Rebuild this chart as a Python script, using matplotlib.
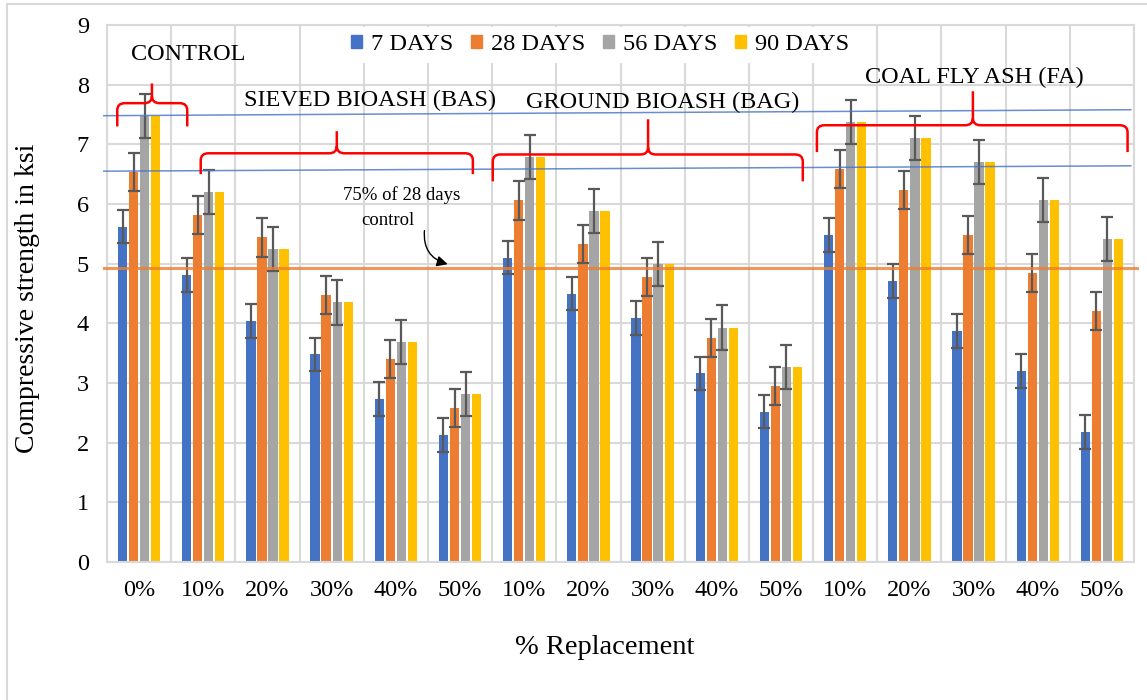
import matplotlib
matplotlib.use("Agg")
import matplotlib.pyplot as plt
import matplotlib.patches as mpatches
from matplotlib.path import Path
import numpy as np

# data
categories = ["0%", "10%", "20%", "30%", "40%", "50%",
              "10%", "20%", "30%", "40%", "50%",
              "10%", "20%", "30%", "40%", "50%"]
series_names = ["7 DAYS", "28 DAYS", "56 DAYS", "90 DAYS"]
days_7 = [5.62, 4.81, 4.04, 3.48, 2.73, 2.13, 5.10, 4.50, 4.09, 3.16, 2.52, 5.48, 4.71, 3.87, 3.20, 2.18]
days_28 = [6.54, 5.81, 5.44, 4.48, 3.40, 2.58, 6.06, 5.33, 4.77, 3.76, 2.95, 6.59, 6.24, 5.48, 4.84, 4.20]
days_56 = [7.48, 6.20, 5.24, 4.35, 3.69, 2.81, 6.79, 5.88, 5.00, 3.93, 3.27, 7.38, 7.11, 6.70, 6.06, 5.41]
days_90 = [7.48, 6.20, 5.24, 4.35, 3.69, 2.81, 6.79, 5.88, 5.00, 3.93, 3.27, 7.38, 7.11, 6.70, 6.06, 5.41]
err_7 = [0.28] * 16
err_28 = [0.32] * 16
err_56 = [0.37] * 16

threshold_75 = 4.92
blue_line_upper = (7.48, 7.58)
blue_line_lower = (6.55, 6.64)

group_labels = ["CONTROL", "SIEVED BIOASH (BAS)", "GROUND BIOASH (BAG)", "COAL FLY ASH (FA)"]
# brace: x_left, x_right, x_tip, y_line, y_ends, y_tip
braces = [
    (-0.34, 0.75, 0.20, 7.69, 7.30, 8.02),
    (0.96, 5.20, 3.08, 6.85, 6.50, 7.22),
    (5.51, 10.34, 7.93, 6.83, 6.38, 7.42),
    (10.56, 15.40, 12.99, 7.32, 6.87, 7.89),
]

colors = ["#4472C4", "#ED7D31", "#A5A5A5", "#FFC000"]
grid_c = "#D9D9D9"
serif = ["Liberation Serif", "DejaVu Serif"]
plt.rcParams["font.family"] = serif

fig = plt.figure(figsize=(11.47, 7.0), dpi=100)
ax = fig.add_axes([107 / 1147, 1 - 562 / 700, (1134 - 107) / 1147, (562 - 25) / 700])

x = np.arange(len(categories))
slot = 0.172
bar_w = 0.145
values = [days_7, days_28, days_56, days_90]
errors = [err_7, err_28, err_56, None]
handles = []
for i, (vals, err) in enumerate(zip(values, errors)):
    offs = (i - 1.5) * slot
    ax.bar(x + offs, vals, bar_w, color=colors[i], label=series_names[i], zorder=2,
           yerr=err, error_kw=dict(ecolor="#595959", elinewidth=1.6, capsize=4, capthick=1.6, zorder=3))
    handles.append(mpatches.Patch(color=colors[i], label=series_names[i]))

ax.set_xlim(-0.5, 15.5)
ax.set_ylim(0, 9)
ax.set_yticks(range(10))
ax.set_xticks(x)
ax.set_xticklabels(categories)
ax.set_xticks(np.arange(-0.5, 16, 1), minor=True)
ax.tick_params(axis="both", which="both", length=0, labelsize=17.5)
ax.tick_params(axis="y", pad=13)
ax.tick_params(axis="x", pad=13)
ax.grid(axis="y", which="major", color=grid_c, lw=1.5, zorder=0)
ax.grid(axis="x", which="minor", color=grid_c, lw=1.5, zorder=0)
ax.set_axisbelow(True)
for s in ax.spines.values():
    s.set_color(grid_c)
    s.set_linewidth(1.5)

# reference lines
ax.plot([-0.55, 15.55], [threshold_75, threshold_75], color="#ED7D31", lw=2.2, alpha=0.8, zorder=4, clip_on=False)
ax.plot([-0.55, 15.45], list(blue_line_upper), color="#4472C4", lw=1.1, alpha=0.8, zorder=4, clip_on=False)
ax.plot([-0.55, 15.45], list(blue_line_lower), color="#4472C4", lw=1.1, alpha=0.8, zorder=4, clip_on=False)

# curly braces
rx, ry = 0.12, 0.12
for x0, x1, xt, yh, ye, yt in braces:
    verts = [(x0, ye), (x0, yh - ry), (x0, yh), (x0 + rx, yh), (xt - rx, yh), (xt, yh), (xt, yh + ry), (xt, yt),
             (xt, yh + ry), (xt, yh), (xt + rx, yh), (x1 - rx, yh), (x1, yh), (x1, yh - ry), (x1, ye)]
    codes = [Path.MOVETO, Path.LINETO, Path.CURVE3, Path.CURVE3, Path.LINETO, Path.CURVE3, Path.CURVE3, Path.LINETO,
             Path.MOVETO, Path.CURVE3, Path.CURVE3, Path.LINETO, Path.CURVE3, Path.CURVE3, Path.LINETO]
    ax.add_patch(mpatches.PathPatch(Path(verts, codes), fill=False, edgecolor="#FF0000", lw=1.8,
                                    zorder=5, clip_on=False))

# group names
ax.text(0.76, 8.51, group_labels[0], fontsize=17.5, ha="center", va="center", zorder=6)
ax.text(3.60, 7.74, group_labels[1], fontsize=17.5, ha="center", va="center", zorder=6)
ax.text(8.16, 7.71, group_labels[2], fontsize=17.5, ha="center", va="center", zorder=6)
ax.text(13.02, 8.12, group_labels[3], fontsize=17.5, ha="center", va="center", zorder=6)

ax.text(4.09, 6.15, "75% of 28 days", fontsize=13.5, ha="center", va="center", zorder=6)
ax.text(3.87, 5.73, "control", fontsize=13.5, ha="center", va="center", zorder=6)
ax.annotate("", xy=(4.85, 4.98), xytext=(4.45, 5.60),
            arrowprops=dict(arrowstyle="-|>", color="black", lw=1.0, mutation_scale=16,
                            connectionstyle="arc3,rad=0.45"), zorder=6)

leg = ax.legend(handles=handles, loc="center", bbox_to_anchor=(0.480, 0.963), ncol=4, frameon=True,
                fontsize=17.5, handlelength=0.45, handleheight=0.45, handletextpad=0.35,
                columnspacing=0.75, borderpad=0.3, fancybox=False)
leg.get_frame().set_facecolor("white")
leg.get_frame().set_edgecolor("none")
leg.get_frame().set_alpha(1.0)
leg.set_zorder(7)

fig.text(28 / 1147, 1 - 298 / 700, "Compressive strength in ksi", rotation=90, fontsize=20,
         ha="center", va="center")
fig.text(605 / 1147, 1 - 648 / 700, "% Replacement", fontsize=20.5, ha="center", va="center")

# chart area border
fig.patches.append(mpatches.Rectangle((7 / 1147, -0.02), 1.0, 1.02 - 4 / 700, transform=fig.transFigure,
                                      fill=False, edgecolor=grid_c, lw=1.5))

fig.savefig("out.png", dpi=100)
